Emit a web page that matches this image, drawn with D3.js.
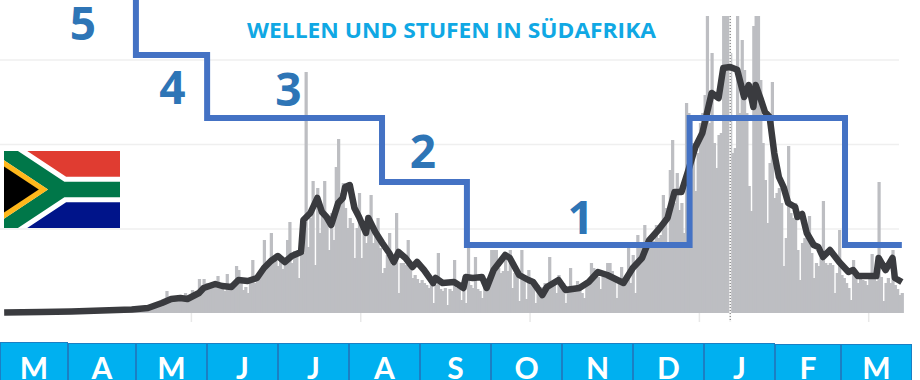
<!DOCTYPE html>
<html>
<head>
<meta charset="utf-8">
<script src="https://cdn.jsdelivr.net/npm/d3@7"></script>
<style>
  html, body { margin: 0; padding: 0; background: #fff; overflow: hidden; }
  text { font-family: "Open Sans", sans-serif; }
</style>
</head>
<body>
<svg id="chart" width="920" height="380"></svg>
<script>
// no y labels in the picture, so the case numbers are estimates
var dailyCases = [
  0,0,0,0,0,0,0,20,10,20,
  10,20,30,30,40,50,40,50,60,60,
  60,60,70,70,60,60,80,70,80,90,
  90,80,100,90,100,110,110,100,120,120,
  130,120,140,150,130,150,160,150,170,160,
  180,170,190,180,200,190,210,200,230,220,
  240,260,280,300,360,420,480,540,600,660,
  1320,720,660,780,720,780,720,840,1200,840,
  900,1380,1080,1200,2040,1560,2040,1800,1620,1500,
  1740,1620,2220,1560,1440,1320,2340,1380,1440,1620,
  2820,2580,1800,1380,1560,1200,1800,3180,1800,1980,
  2400,2520,4380,2760,2880,4800,3000,3120,2820,3300,
  2640,3000,4380,5460,3000,3720,3600,2100,3960,3600,
  14460,3960,5700,7920,2880,7500,4800,6000,7920,5880,
  3780,6000,4380,8760,10440,7200,7800,6300,5100,5700,
  5400,3300,5100,7200,3300,5400,4200,5100,7080,4200,
  4680,5700,3900,2400,2700,3480,4800,2880,3120,6000,
  1200,3000,3000,2880,4380,2700,2100,2280,2040,1800,
  1980,1800,1680,1500,1920,600,1680,3600,1440,1320,
  1500,480,1440,1320,3180,1500,1440,780,1320,600,
  4200,1680,1500,3360,1440,1320,900,1800,2100,2160,
  3780,3780,3780,2700,2400,2520,3600,2520,3780,1500,
  2400,2280,720,3780,2100,840,2580,1680,2040,600,
  1680,1320,1560,1800,1500,3360,1680,1800,1200,2280,
  1560,1800,600,1440,2700,1440,1560,1920,1440,1200,
  900,1920,2040,3000,2700,2280,2160,1440,2280,2400,
  3000,3000,2520,2100,900,1800,2760,1800,1920,3900,
  1800,3480,1200,4680,3960,4080,5280,4200,4320,4200,
  4320,5280,4500,4680,7080,6300,4200,8580,10380,6600,
  8400,6180,6600,4800,12600,12000,9000,10200,7320,9600,
  11400,12000,13080,24000,11400,15600,10200,8700,10680,10800,
  19200,19800,20400,15600,9600,9900,21960,12000,16380,14580,
  12000,7620,6120,17220,18000,19200,13980,10200,7980,5400,
  9000,13860,6900,7200,7500,6600,2820,4500,10020,6000,
  5700,6600,3780,1980,4200,4500,4680,5820,3600,2100,
  3000,2820,3300,6720,3000,2880,3000,2880,1200,2400,
  4980,2280,2100,1800,1500,780,3180,2100,1800,2280,
  1980,1920,1680,2160,3540,2100,1920,7860,2160,720,
  1800,2100,1800,3780,1680,1440,1080,1200
];

// smoothed line, read at the days where it turns
var avgDays = [0,16,29,42,55,62,68,72,76,79,84,86,91,94,98,101,105,109,112,115,118,121,124,128,129,132,135,137,139,141,144,146,147,149,151,153,156,157,160,163,166,168,170,173,176,178,181,185,186,189,194,198,199,202,206,208,211,216,218,222,226,228,232,234,239,242,248,252,256,260,267,271,275,278,282,286,289,292,295,298,301,305,308,310,313,316,319,321,323,324,326,328,330,332,334,336,338,341,342,344,346,349,351,353,356,360,364,366,368,372,376,377,380,383,384,387];
var avgCases = [30,60,90,150,210,300,600,840,900,840,1200,1500,1740,1620,1560,1980,1920,2100,2700,3120,3420,3060,3420,3660,5580,6000,6900,6060,5760,5280,6600,6900,7560,7680,6300,5760,4800,5700,4860,4200,3600,3060,3660,3300,2760,3060,2580,1800,2100,1800,1860,1500,2160,2100,2160,1500,2580,3480,3300,2280,1980,1860,1080,1560,1980,1380,1500,1860,2460,2280,1800,2700,3300,4350,4980,5700,7260,7260,8580,9960,10800,13200,12900,14700,14760,14600,12960,13680,12360,13680,12900,12060,11760,9600,8160,7560,6600,6360,5760,5940,4800,4080,3960,3360,3780,3060,2460,2580,2220,2220,2220,3300,2580,3300,2100,1860];

var stepDays = [57.3,57.3,88,88,163.4,163.4,200,200,296,296,363,363,387.5];
var stepLevels = [18780,15480,15480,11700,11700,7860,7860,4080,4080,11700,11700,4080,4080];

var waveLabels = ["5","4","3","2","1"];
var waveDays = [34.5,73,123,181,249];
var waveLevels = [16380,12540,12420,8700,4740];

var gridValues = [5070,10140,15210];
var tickDays = [81,154,227,300,373];
var markerDay = 313;

var monthLabels = ["M","A","M","J","J","A","S","O","N","D","J","F","M"];
var monthEdges = [0,68,136,207,278,349,420,491,562,633,704,775,841,912];
var monthTops = [342,343,343,343,343,343,343,343,343,343,343,344,344];

var titleText = "WELLEN UND STUFEN IN SÜDAFRIKA";

var svg = d3.select("#chart");
var x = d3.scaleLinear().domain([0, 388]).range([3, 903]);
var y = d3.scaleLinear().domain([0, 18000]).range([313, 13]);

svg.append("clipPath").attr("id", "plotClip")
    .append("rect").attr("x", 0).attr("y", 16).attr("width", 920).attr("height", 300);

// gridlines and the bottom ticks
var grid = svg.append("g").attr("transform", "translate(0,0)")
    .call(d3.axisLeft(y).tickValues(gridValues).tickSize(-899).tickFormat(""));
grid.select(".domain").remove();
grid.selectAll("line").attr("stroke", "#efefef").attr("stroke-width", 1.5);

var xAxis = svg.append("g").attr("transform", "translate(0,313)")
    .call(d3.axisBottom(x).tickValues(tickDays).tickSize(9).tickFormat(""));
xAxis.select(".domain").remove();
xAxis.selectAll("line").attr("stroke", "#e8e8e8").attr("stroke-width", 1.5);

// daily bars, slightly overlapped so the body reads as one solid area
var barW = x(1) - x(0);
svg.append("g").attr("clip-path", "url(#plotClip)")
    .selectAll("rect").data(dailyCases).enter().append("rect")
    .attr("x", function(d, i) { return x(i); })
    .attr("y", function(d) { return y(d); })
    .attr("width", barW + 0.9)
    .attr("height", function(d) { return y(0) - y(d); })
    .attr("fill", "#bdbec2");

// dotted marker over the bars
svg.append("line")
    .attr("x1", x(markerDay + 0.5)).attr("x2", x(markerDay + 0.5))
    .attr("y1", 16).attr("y2", 322)
    .attr("stroke", "#f4f4f4").attr("stroke-width", 2);
svg.append("line")
    .attr("x1", x(markerDay + 0.5)).attr("x2", x(markerDay + 0.5))
    .attr("y1", 16).attr("y2", 322)
    .attr("stroke", "#666").attr("stroke-dasharray", "1,2");

var avgLine = d3.line()
    .x(function(d, i) { return x(avgDays[i] + 0.5); })
    .y(function(d) { return y(d); });
svg.append("path").datum(avgCases)
    .attr("d", avgLine)
    .attr("fill", "none")
    .attr("stroke", "#3a3b3f")
    .attr("stroke-linejoin", "round")
    .attr("stroke-width", 6.5);

var stepLine = d3.line()
    .x(function(d, i) { return x(stepDays[i]); })
    .y(function(d) { return y(d); });
svg.append("path").datum(stepLevels)
    .attr("d", stepLine)
    .attr("fill", "none")
    .attr("stroke", "#4472c4")
    .attr("stroke-width", 6);

svg.selectAll(".wave").data(waveLabels).enter().append("text")
    .attr("class", "wave")
    .attr("x", function(d, i) { return x(waveDays[i]); })
    .attr("y", function(d, i) { return y(waveLevels[i]); })
    .attr("text-anchor", "middle")
    .attr("font-size", 46)
    .attr("font-weight", 700)
    .attr("fill", "#2e75b6")
    .text(function(d) { return d; });

svg.append("text")
    .attr("x", 247).attr("y", 38)
    .attr("textLength", 409)
    .attr("lengthAdjust", "spacingAndGlyphs")
    .attr("font-size", 22)
    .attr("font-weight", 700)
    .attr("fill", "#10a8e4")
    .text(titleText);

// flag
var flag = svg.append("svg")
    .attr("x", 4).attr("y", 151).attr("width", 116).attr("height", 77)
    .attr("viewBox", "0 0 900 600")
    .attr("preserveAspectRatio", "none");
flag.append("rect").attr("width", 900).attr("height", 300).attr("fill", "#e03c31");
flag.append("rect").attr("y", 300).attr("width", 900).attr("height", 300).attr("fill", "#00148a");
flag.append("path").attr("d", "M0,0L450,300L900,300M0,600L450,300")
    .attr("fill", "none").attr("stroke", "#fff").attr("stroke-width", 200);
flag.append("path").attr("d", "M0,0L450,300L900,300M0,600L450,300")
    .attr("fill", "none").attr("stroke", "#007749").attr("stroke-width", 120);
flag.append("path").attr("d", "M0,72L342,300L0,528Z").attr("fill", "#ffb81c");
flag.append("path").attr("d", "M0,120L270,300L0,480Z").attr("fill", "#000");

// month strip
var months = svg.append("g");
monthLabels.forEach(function(m, i) {
    months.append("rect")
        .attr("x", monthEdges[i] + 0.5).attr("y", monthTops[i] + 0.5)
        .attr("width", monthEdges[i + 1] - monthEdges[i] - 1)
        .attr("height", 380 - monthTops[i])
        .attr("fill", "#00b0f0")
        .attr("stroke", "#1b7fc4");
    months.append("text")
        .attr("x", (monthEdges[i] + monthEdges[i + 1]) / 2)
        .attr("y", 379)
        .attr("text-anchor", "middle")
        .attr("font-family", "Lato, sans-serif")
        .style("font-family", "Lato, sans-serif")
        .attr("font-size", 30)
        .attr("font-weight", 700)
        .attr("fill", "#fff")
        .text(m);
});
</script>
</body>
</html>
